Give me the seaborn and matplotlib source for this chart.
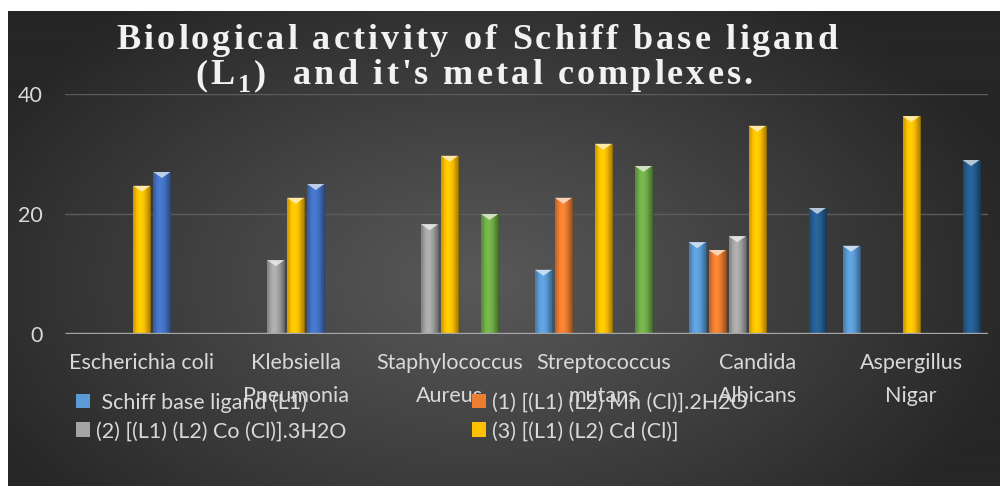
import numpy as np
import pandas as pd
import matplotlib
matplotlib.use("Agg")
import matplotlib.pyplot as plt
import matplotlib.colors as mcolors
from matplotlib import font_manager, ft2font
from matplotlib.patches import Polygon, Patch
import seaborn as sns

# ---- data -------------------------------------------------------------
categories = ["Escherichia coli", "Klebsiella Pneumonia", "Staphylococcus Aureus",
              "Streptococcus mutans", "Candida Albicans", "Aspergillus Nigar"]
category_labels = ["Escherichia coli", "Klebsiella\nPneumonia", "Staphylococcus\nAureus",
                   "Streptococcus\nmutans", "Candida\nAlbicans", "Aspergillus\nNigar"]

series_names = [" Schiff base ligand (L1)",
                "(1) [(L1) (L2) Mn (Cl)].2H2O",
                "(2) [(L1) (L2) Co (Cl)].3H2O",
                "(3) [(L1) (L2) Cd (Cl)]",
                "Series 5", "Series 6", "Series 7"]

ligand_L1 = [None, None, None, 10.7, 15.3, 14.7]
complex_mn = [None, None, None, 22.7, 14.0, None]
complex_co = [None, 12.3, 18.3, None, 16.3, None]
complex_cd = [24.7, 22.7, 29.7, 31.7, 34.7, 36.3]
series_5 = [27.0, 25.0, None, None, None, None]
series_6 = [None, None, 20.0, 28.0, None, None]
series_7 = [None, None, None, None, 21.0, 29.0]

series_values = [ligand_L1, complex_mn, complex_co, complex_cd,
                 series_5, series_6, series_7]
series_colors = ["#5B9BD5", "#ED7D31", "#A5A5A5", "#FFC000",
                 "#4472C4", "#70AD47", "#255E91"]

yticks = [0, 20, 40]
title_line1 = [("Biological activity of Schiff base ligand", "main")]
title_line2 = [("(L", "main"), ("1", "sub"), (")  and it's metal complexes.", "main")]

rows = []
for name, vals in zip(series_names, series_values):
    for cat, v in zip(categories, vals):
        if v is not None:
            rows.append({"category": cat, "series": name, "value": v})
df = pd.DataFrame(rows)

# ---- style ------------------------------------------------------------
sns.set_theme(style="dark")
plt.rcParams["font.family"] = ["Lato", "DejaVu Sans"]
LABEL_SIZE = 15.5
LABEL_COLOR = "#d9d9d9"

W, H = 1000, 486
DPI = 100
fig = plt.figure(figsize=(W / DPI, H / DPI), dpi=DPI, facecolor="white")

# radial shaded backdrop
bg = fig.add_axes([8 / W, 0, 1 - 8 / W, (H - 11) / H])
bg.set_axis_off()
yy, xx = np.mgrid[0:475, 0:992]
cx, cy = 470, 270
r = np.sqrt(((xx - cx) / 560.0) ** 2 + ((yy - cy) / 340.0) ** 2)
r = np.clip(r, 0, 1) ** 1.1
inner = np.array(mcolors.to_rgb("#585858"))
outer = np.array(mcolors.to_rgb("#262626"))
img = inner[None, None, :] * (1 - r[..., None]) + outer[None, None, :] * r[..., None]
bg.imshow(img, aspect="auto", extent=[0, 1, 0, 1], origin="upper")
bg.set_xlim(0, 1)
bg.set_ylim(0, 1)

# plot area
ax = fig.add_axes([65 / W, (H - 334) / H, 923 / W, 240 / H])
ax.set_facecolor("none")
sns.barplot(data=df, x="category", y="value", hue="series",
            order=categories, hue_order=series_names,
            palette=series_colors, saturation=1, width=0.91, gap=0.15,
            errorbar=None, legend=False, ax=ax, zorder=3)

ax.set_ylim(0, 40)
ax.set_xlim(-0.5, len(categories) - 0.5)
ax.set_yticks(yticks)
ax.grid(False)
for y in yticks[1:]:
    ax.axhline(y, color="#5c5c5c", lw=1.0, zorder=1)
ax.axhline(0, color="#a6a6a6", lw=2.4, zorder=4, solid_capstyle="butt")
for s in ax.spines.values():
    s.set_visible(False)
ax.set_xlabel("")
ax.set_ylabel("")
ax.tick_params(axis="both", length=0, colors=LABEL_COLOR, labelsize=LABEL_SIZE)
ax.tick_params(axis="y", pad=16)
ax.tick_params(axis="x", pad=14)
ax.set_xticks(range(len(categories)))
ax.set_xticklabels(category_labels)
for t in ax.get_xticklabels():
    t.set_linespacing(1.8)
    t.set_verticalalignment("top")

# shaded bar faces with a bevelled top
px_per_unit = 240 / 40.0
for p in list(ax.patches):
    h = p.get_height()
    if not np.isfinite(h) or h <= 0:
        continue
    x0, w = p.get_x(), p.get_width()
    base = np.array(mcolors.to_rgb(p.get_facecolor()))
    prof = np.array([0.8, 1.0, 1.08, 1.08, 1.0, 0.9, 0.7])
    grad = np.clip(base[None, :] * prof[:, None], 0, 1)[None, :, :]
    im = ax.imshow(grad, extent=[x0, x0 + w, 0, h], aspect="auto",
                   interpolation="bicubic", zorder=3.1, origin="lower")
    im.set_clip_path(p)
    p.set_edgecolor(tuple(base * 0.55))
    p.set_linewidth(0.6)
    bev = 6.0 / px_per_unit
    light = tuple(np.clip(base + (1 - base) * 0.65, 0, 1))
    tri = Polygon([[x0, h], [x0 + w, h], [x0 + w / 2, h - bev]], closed=True,
                  facecolor=light, edgecolor="none", zorder=3.2)
    ax.add_patch(tri)
ax.set_xlim(-0.5, len(categories) - 0.5)
ax.set_ylim(0, 40)


# title: letter-spaced bold serif, placed glyph by glyph
def glyph_advances(text, size_pt):
    path = font_manager.findfont(
        font_manager.FontProperties(family="Liberation Serif", weight="bold"))
    font = ft2font.FT2Font(path)
    font.set_size(size_pt, DPI)
    return [font.load_char(ord(c)).linearHoriAdvance / 65536.0 for c in text]


def spaced_title(segments, center_x, baseline_y, size_pt, tracking_px):
    sub_size = size_pt * 0.72
    items = []
    for text, kind in segments:
        sz = size_pt if kind == "main" else sub_size
        dy = 0 if kind == "main" else 8
        for c, a in zip(text, glyph_advances(text, sz)):
            items.append((c, a, sz, dy))
    total = sum(a for _, a, _, _ in items) + tracking_px * (len(items) - 1)
    x = center_x - total / 2.0
    for c, a, sz, dy in items:
        if c != " ":
            fig.text(x / W, 1 - (baseline_y + dy) / H, c, color="#f2f2f2",
                     fontsize=sz, fontweight="bold", family="Liberation Serif",
                     ha="left", va="baseline")
        x += a + tracking_px


spaced_title(title_line1, 477, 49, 26, 3.1)
spaced_title(title_line2, 474, 84, 26, 3.1)

# legend (first four series)
handles = [Patch(facecolor=series_colors[i], edgecolor="none") for i in (0, 2, 1, 3)]
labels = [series_names[i] for i in (0, 2, 1, 3)]
fig.legend(handles, labels, loc="upper left", bbox_to_anchor=(76 / W, 1 - 392 / H),
           ncol=2, frameon=False, fontsize=LABEL_SIZE, labelcolor=LABEL_COLOR,
           handlelength=0.65, handleheight=0.65, handletextpad=0.28,
           columnspacing=5.85, labelspacing=0.4, borderpad=0, borderaxespad=0)

fig.savefig("out.png", dpi=DPI, facecolor="white")
